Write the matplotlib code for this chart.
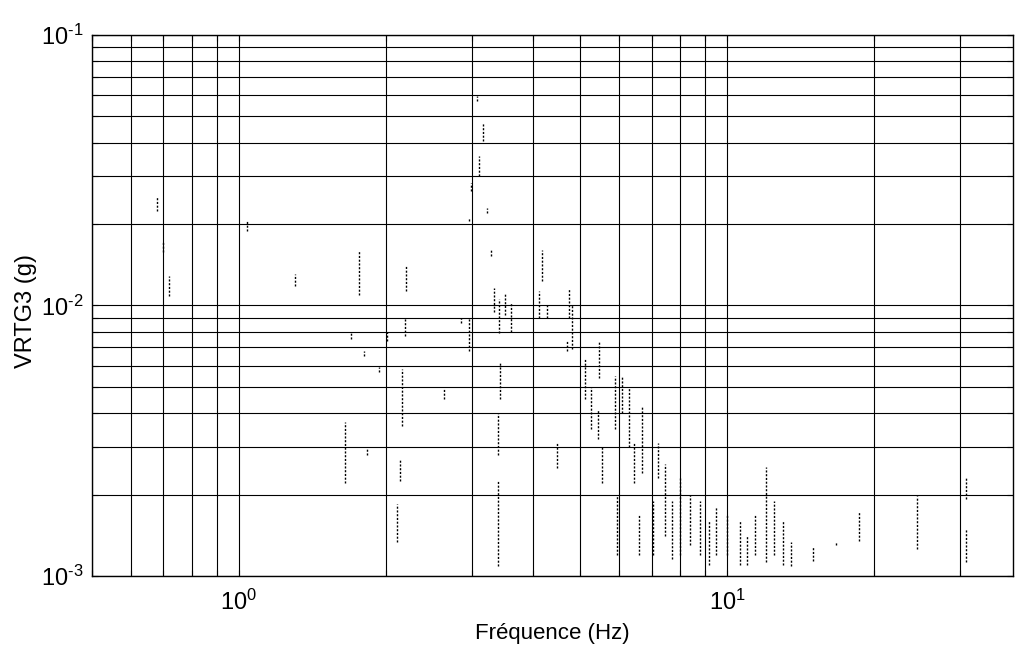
import math
import matplotlib
matplotlib.use("Agg")
import matplotlib.pyplot as plt
from matplotlib.ticker import LogLocator, FuncFormatter, NullFormatter

# police proche de Helvetica
plt.rcParams['font.family'] = ['Liberation Sans', 'DejaVu Sans']
plt.rcParams['mathtext.default'] = 'regular'

freq_hz = [0.68, 0.70, 0.72, 1.04, 1.30, 1.65, 1.70, 1.76, 1.80, 1.83,
           1.94, 2.01, 2.11, 2.14, 2.16, 2.19, 2.20, 2.63, 2.85, 2.96,
           2.96, 2.99, 3.07, 3.10, 3.16, 3.22, 3.28, 3.33, 3.39, 3.39,
           3.41, 3.43, 3.50, 3.61, 4.12, 4.18, 4.28, 4.48, 4.70, 4.75,
           4.80, 5.12, 5.25, 5.43, 5.47, 5.54, 5.90, 5.95, 6.10, 6.30,
           6.45, 6.60, 6.70, 7.05, 7.20, 7.45, 7.70, 8.00, 8.40, 8.80,
           9.20, 9.50, 10.0, 10.6, 11.0, 11.4, 12.0, 12.5, 13.0, 13.5,
           15.0, 16.7, 18.6, 24.5, 30.9, 30.9]
vrtg_haut = [0.0255, 0.0173, 0.0129, 0.0205, 0.0131, 0.0037, 0.0079, 0.0160, 0.0068, 0.0030,
             0.0059, 0.0080, 0.00185, 0.0027, 0.0058, 0.0090, 0.0141, 0.0049, 0.0090, 0.0090,
             0.0210, 0.0283, 0.0594, 0.0356, 0.0472, 0.0230, 0.0160, 0.0116, 0.0040, 0.00225,
             0.0106, 0.0062, 0.0110, 0.0103, 0.0113, 0.0160, 0.0102, 0.0031, 0.0074, 0.0116,
             0.0100, 0.0064, 0.0050, 0.0041, 0.0074, 0.0030, 0.0055, 0.0020, 0.0055, 0.0050,
             0.0031, 0.0017, 0.0042, 0.0019, 0.0031, 0.0026, 0.0019, 0.0023, 0.0020, 0.0019,
             0.0016, 0.0018, 0.0017, 0.0016, 0.0014, 0.0017, 0.00253, 0.0019, 0.0016, 0.00134,
             0.00129, 0.00134, 0.00172, 0.00198, 0.00233, 0.00149]
vrtg_bas = [0.0223, 0.0158, 0.0108, 0.0188, 0.0118, 0.0022, 0.0075, 0.0109, 0.0065, 0.0028,
            0.0057, 0.0074, 0.00134, 0.00225, 0.0036, 0.0077, 0.0113, 0.0045, 0.0086, 0.0068,
            0.0205, 0.0264, 0.0570, 0.0300, 0.0405, 0.0220, 0.0153, 0.0095, 0.0028, 0.00109,
            0.0079, 0.0045, 0.0092, 0.0080, 0.0090, 0.0123, 0.0090, 0.0025, 0.0068, 0.0090,
            0.0069, 0.0045, 0.0035, 0.0032, 0.0054, 0.0022, 0.0035, 0.0012, 0.0040, 0.0030,
            0.0022, 0.0012, 0.0024, 0.0012, 0.0023, 0.0014, 0.00116, 0.0012, 0.0013, 0.0012,
            0.0011, 0.0012, 0.0012, 0.0011, 0.0011, 0.0012, 0.00113, 0.0012, 0.0011, 0.00109,
            0.00114, 0.00130, 0.00135, 0.00126, 0.00193, 0.00113]

fig = plt.figure(figsize=(10.16, 6.48), dpi=100)
ax = fig.add_axes([92 / 1016, 1 - 576 / 648, (1013 - 92) / 1016, (576 - 35) / 648])
ax.set_xscale('log')
ax.set_yscale('log')
ax.set_xlim(0.5, 38.5)
ax.set_ylim(1e-3, 1e-1)

# donnees en pointilles fins
ax.vlines(freq_hz, vrtg_bas, vrtg_haut, colors='k', linewidth=1.0,
          linestyles=(0, (1.5, 1.2)), zorder=3)

# grille pleine majeure + mineure (style MATLAB)
ax.xaxis.set_major_locator(LogLocator(base=10))
ax.xaxis.set_minor_locator(LogLocator(base=10, subs=range(2, 10)))
ax.yaxis.set_major_locator(LogLocator(base=10))
ax.yaxis.set_minor_locator(LogLocator(base=10, subs=range(2, 10)))
ax.grid(True, which='both', color='k', linestyle='-', linewidth=0.8)
ax.set_axisbelow(True)


def puissance(v, pos):
    e = round(math.log10(v))
    # trait d'union court comme sur l'original
    txt = str(e).replace('-', '\u2010')
    return r'$10^{%s}$' % txt


fmt = FuncFormatter(puissance)
ax.xaxis.set_major_formatter(fmt)
ax.yaxis.set_major_formatter(fmt)
ax.xaxis.set_minor_formatter(NullFormatter())
ax.yaxis.set_minor_formatter(NullFormatter())

ax.tick_params(which='both', direction='in', top=True, right=True,
               labelsize=17, length=4, width=0.8)
ax.tick_params(axis='x', pad=10)
ax.tick_params(axis='y', pad=6)
for s in ax.spines.values():
    s.set_linewidth(1.0)
    s.set_color('k')

ax.set_xlabel('Fréquence (Hz)', fontsize=16, labelpad=6)
ax.set_ylabel('VRTG3 (g)', fontsize=17)
ax.yaxis.set_label_coords(-0.060, 0.49)

fig.savefig('out.png', dpi=100, facecolor='white')
